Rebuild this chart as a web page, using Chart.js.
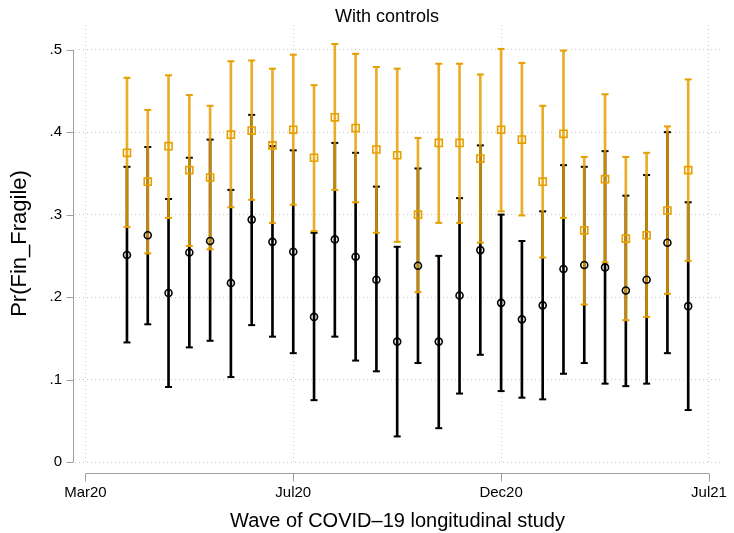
<!DOCTYPE html>
<html>
<head>
<meta charset="utf-8">
<script src="https://cdn.jsdelivr.net/npm/chart.js@4.4.1/dist/chart.umd.min.js"></script>
<style>
  html, body { margin: 0; padding: 0; background: #ffffff; }
  #wrap { width: 734px; height: 533px; position: relative; }
</style>
</head>
<body>
<div id="wrap"><canvas id="c" width="734" height="533"></canvas></div>
<script>
// ---- data ----
const waves = [2,3,4,5,6,7,8,9,10,11,12,13,14,15,16,17,18,19,20,21,22,23,24,25,26,27,28,29];

const blackMean = [0.251,0.275,0.205,0.254,0.268,0.217,0.294,0.267,0.255,0.176,0.270,0.249,0.221,0.146,0.238,0.146,0.202,0.257,0.193,0.173,0.190,0.234,0.239,0.236,0.208,0.221,0.266,0.189];
const blackLo   = [0.145,0.167,0.091,0.139,0.147,0.103,0.166,0.152,0.132,0.075,0.152,0.123,0.110,0.031,0.120,0.041,0.083,0.130,0.086,0.078,0.076,0.107,0.120,0.095,0.092,0.095,0.132,0.063];
const blackHi   = [0.358,0.382,0.319,0.369,0.391,0.330,0.421,0.383,0.378,0.278,0.387,0.375,0.334,0.261,0.356,0.250,0.320,0.384,0.300,0.268,0.304,0.360,0.358,0.377,0.323,0.348,0.400,0.315];

const orangeMean = [0.375,0.340,0.383,0.354,0.345,0.397,0.402,0.384,0.403,0.369,0.418,0.405,0.379,0.372,0.300,0.387,0.387,0.368,0.403,0.391,0.340,0.398,0.281,0.343,0.271,0.275,0.305,0.354];
const orangeLo   = [0.285,0.253,0.296,0.262,0.258,0.309,0.318,0.290,0.312,0.280,0.330,0.315,0.278,0.267,0.206,0.290,0.290,0.266,0.304,0.299,0.248,0.296,0.191,0.242,0.172,0.176,0.204,0.244];
const orangeHi   = [0.466,0.427,0.469,0.445,0.432,0.486,0.487,0.477,0.494,0.457,0.507,0.495,0.479,0.477,0.393,0.483,0.483,0.470,0.501,0.484,0.432,0.499,0.370,0.446,0.370,0.375,0.407,0.464];

const xTickValues = [0, 10, 20, 30];
const xTickLabels = ['Mar20', 'Jul20', 'Dec20', 'Jul21'];
const yTickValues = [0, 0.1, 0.2, 0.3, 0.4, 0.5];
const yTickLabels = ['0', '.1', '.2', '.3', '.4', '.5'];

const titleText = 'With controls';
const xTitle = 'Wave of COVID\u201319 longitudinal study';
const yTitle = 'Pr(Fin_Fragile)';

// ---- styles ----
const FONT = "'Liberation Sans', Arial, Helvetica, sans-serif";
const BLACK = '#000000';
const ORANGE = '#E69F00';
const ORANGE_LINE = 'rgba(230,159,0,0.85)';
const AXIS_GRAY = '#a0a0a0';
const GRID_GRAY = '#cccccc';

const ciData = (lo, hi) => waves.map((w, i) => ({x: w, y: [lo[i], hi[i]]}));
const ptData = (v) => waves.map((w, i) => ({x: w, y: v[i]}));
const capData = (lo, hi) => waves.flatMap((w, i) => [{x: w, y: lo[i]}, {x: w, y: hi[i]}]);

const stataAxes = {
  id: 'stataAxes',
  afterDraw(chart) {
    const ctx = chart.ctx;
    const xs = chart.scales.x, ys = chart.scales.y;
    ctx.save();
    ctx.strokeStyle = AXIS_GRAY;
    ctx.lineWidth = 1;
    ctx.setLineDash([]);
    // y axis line
    const yAxisX = 73.5;
    ctx.beginPath();
    ctx.moveTo(yAxisX, ys.getPixelForValue(0));
    ctx.lineTo(yAxisX, ys.getPixelForValue(0.5));
    yTickValues.forEach(v => {
      const py = Math.round(ys.getPixelForValue(v)) + 0.5;
      ctx.moveTo(yAxisX, py);
      ctx.lineTo(yAxisX - 7, py);
    });
    ctx.stroke();
    // x axis line
    const xAxisY = 473.5;
    ctx.beginPath();
    ctx.moveTo(xs.getPixelForValue(0), xAxisY);
    ctx.lineTo(xs.getPixelForValue(30), xAxisY);
    xTickValues.forEach(v => {
      const px = Math.round(xs.getPixelForValue(v)) + 0.5;
      ctx.moveTo(px, xAxisY);
      ctx.lineTo(px, xAxisY + 8);
    });
    ctx.stroke();
    // title
    ctx.fillStyle = '#000';
    ctx.font = '18px ' + FONT;
    ctx.textAlign = 'center';
    ctx.textBaseline = 'middle';
    ctx.fillText(titleText, 387, 17);
    ctx.restore();
  }
};

new Chart(document.getElementById('c'), {
  data: {
    datasets: [
      { type: 'bar', data: ciData(blackLo, blackHi), backgroundColor: BLACK, barThickness: 2, grouped: false, borderWidth: 0, order: 6 },
      { type: 'scatter', data: capData(blackLo, blackHi), pointStyle: 'line', radius: 3.5, borderWidth: 2, borderColor: BLACK, order: 5 },
      { type: 'bar', data: ciData(orangeLo, orangeHi), backgroundColor: ORANGE_LINE, barThickness: 2, grouped: false, borderWidth: 0, order: 4 },
      { type: 'scatter', data: capData(orangeLo, orangeHi), pointStyle: 'line', radius: 3.5, borderWidth: 2, borderColor: ORANGE, order: 3 },
      { type: 'scatter', data: ptData(blackMean), pointStyle: 'circle', radius: 3.5, borderWidth: 1.6, borderColor: BLACK, backgroundColor: 'rgba(0,0,0,0)', order: 2 },
      { type: 'scatter', data: ptData(orangeMean), pointStyle: 'rect', radius: 5, borderWidth: 1.6, borderColor: ORANGE, backgroundColor: 'rgba(0,0,0,0)', order: 1 }
    ]
  },
  options: {
    responsive: false,
    animation: false,
    events: [],
    layout: { padding: { top: 25, right: 14, bottom: 0, left: 0 } },
    plugins: { legend: { display: false }, tooltip: { enabled: false }, title: { display: false } },
    scales: {
      x: {
        type: 'linear',
        min: -0.5,
        max: 30.53,
        offset: false,
        afterBuildTicks: s => { s.ticks = xTickValues.map(v => ({value: v})); },
        afterFit: s => { s.height = 71; s.paddingLeft = 0; s.paddingRight = 0; },
        grid: { display: true, drawTicks: false, color: GRID_GRAY, lineWidth: 1, offset: false },
        border: { display: false, dash: [1, 3] },
        ticks: {
          padding: 22,
          color: '#000',
          font: { family: FONT, size: 15 },
          maxRotation: 0,
          autoSkip: false,
          callback: v => { const i = xTickValues.indexOf(v); return i >= 0 ? xTickLabels[i] : ''; }
        },
        title: { display: true, text: xTitle, color: '#000', font: { family: FONT, size: 20 }, padding: { top: 0, bottom: 0 } }
      },
      y: {
        type: 'linear',
        min: 0,
        max: 0.53,
        afterBuildTicks: s => { s.ticks = yTickValues.map(v => ({value: v})); },
        afterFit: s => { s.width = 75; s.paddingTop = 0; s.paddingBottom = 0; },
        grid: { display: true, drawTicks: false, color: GRID_GRAY, lineWidth: 1 },
        border: { display: false, dash: [1, 3] },
        ticks: {
          padding: 13,
          color: '#000',
          font: { family: FONT, size: 15 },
          callback: v => { const i = yTickValues.findIndex(t => Math.abs(t - v) < 1e-9); return i >= 0 ? yTickLabels[i] : ''; }
        },
        title: { display: true, text: yTitle, color: '#000', font: { family: FONT, size: 22 }, padding: { top: 7, bottom: 0 } }
      }
    }
  },
  plugins: [stataAxes]
});
</script>
</body>
</html>
